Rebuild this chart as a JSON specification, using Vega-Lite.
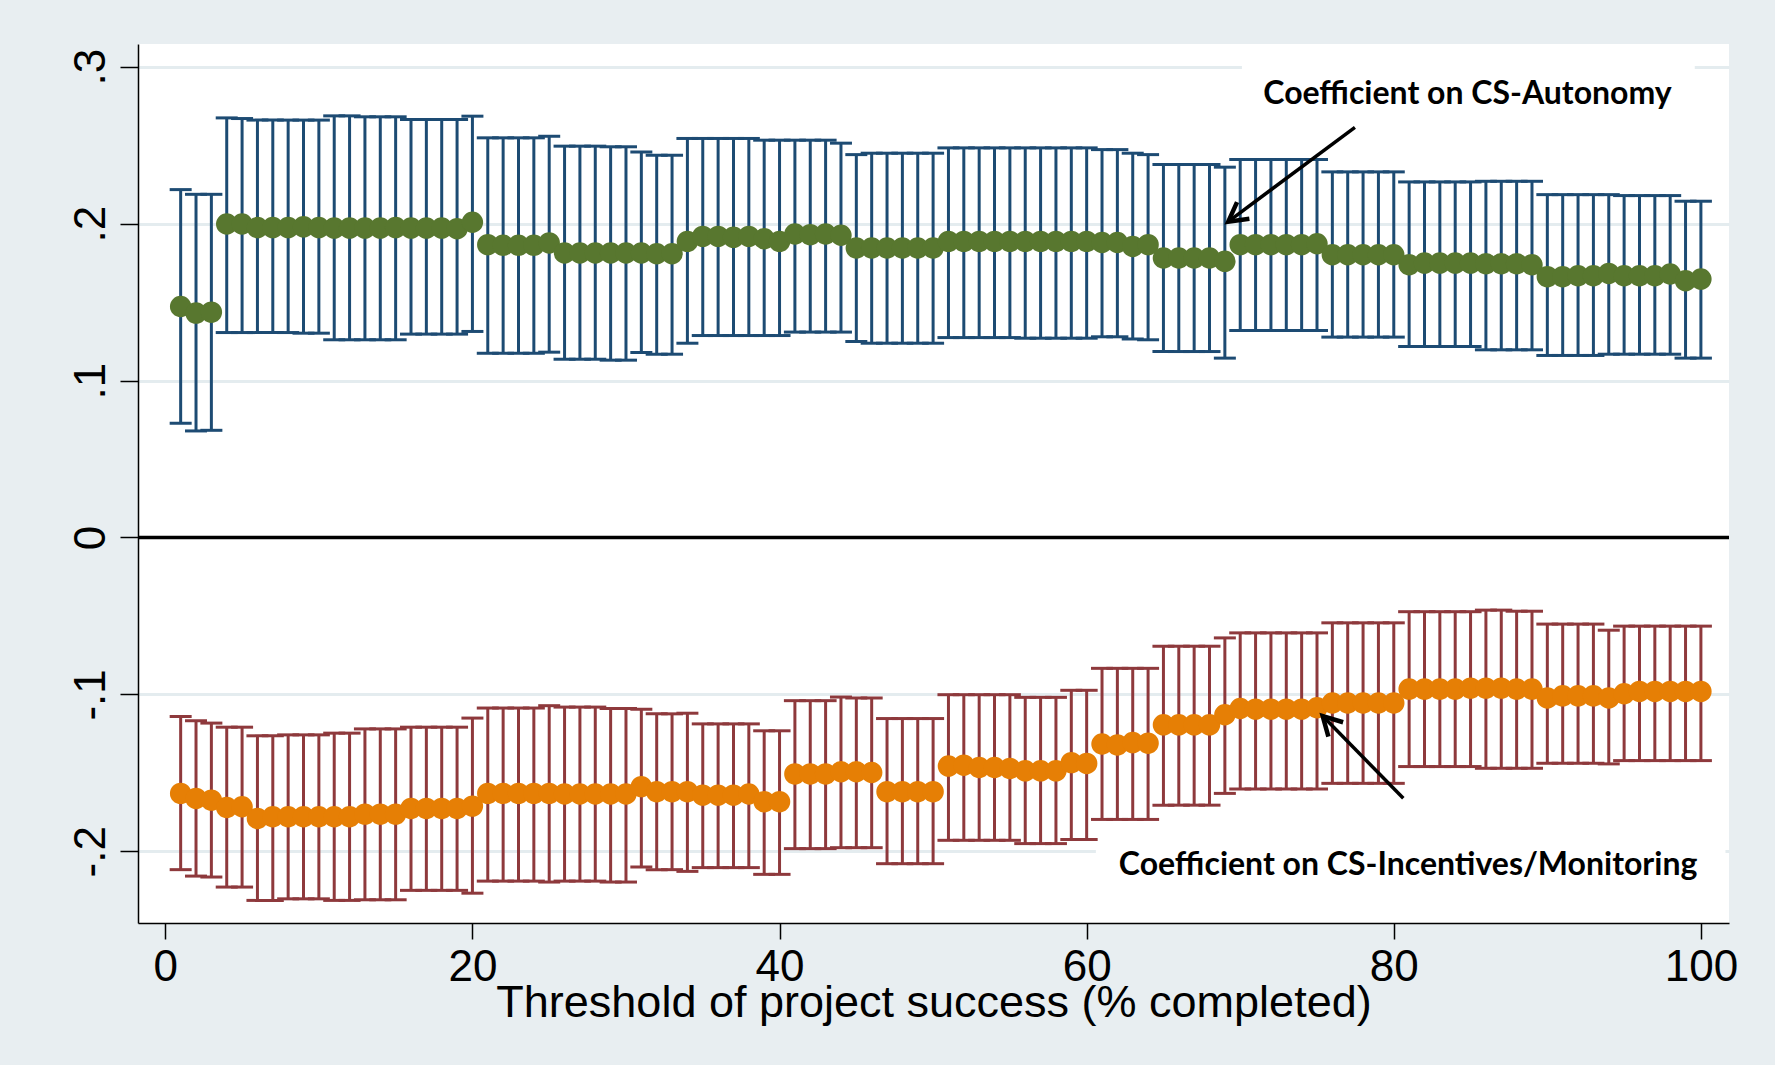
{
  "$schema": "https://vega.github.io/schema/vega-lite/v6.json",
  "autosize": {"type": "none"},
  "padding": {"left": 138, "top": 44, "right": 46, "bottom": 142},
  "width": 1591,
  "height": 879,
  "background": "#e8eef1",
  "view": {"fill": "white", "stroke": null},
  "datasets": {
    "aut": [
      {"t":1,"c":0.1472,"lo":0.0728,"hi":0.2217},
      {"t":2,"c":0.1430,"lo":0.0679,"hi":0.2187},
      {"t":3,"c":0.1436,"lo":0.0683,"hi":0.2187},
      {"t":4,"c":0.1998,"lo":0.1306,"hi":0.2674},
      {"t":5,"c":0.1998,"lo":0.1306,"hi":0.2670},
      {"t":6,"c":0.1975,"lo":0.1306,"hi":0.2660},
      {"t":7,"c":0.1975,"lo":0.1306,"hi":0.2660},
      {"t":8,"c":0.1975,"lo":0.1306,"hi":0.2660},
      {"t":9,"c":0.1980,"lo":0.1302,"hi":0.2660},
      {"t":10,"c":0.1975,"lo":0.1302,"hi":0.2660},
      {"t":11,"c":0.1972,"lo":0.1260,"hi":0.2687},
      {"t":12,"c":0.1972,"lo":0.1260,"hi":0.2687},
      {"t":13,"c":0.1972,"lo":0.1260,"hi":0.2681},
      {"t":14,"c":0.1972,"lo":0.1260,"hi":0.2681},
      {"t":15,"c":0.1975,"lo":0.1260,"hi":0.2681},
      {"t":16,"c":0.1972,"lo":0.1296,"hi":0.2664},
      {"t":17,"c":0.1972,"lo":0.1296,"hi":0.2664},
      {"t":18,"c":0.1972,"lo":0.1296,"hi":0.2664},
      {"t":19,"c":0.1968,"lo":0.1296,"hi":0.2664},
      {"t":20,"c":0.2009,"lo":0.1313,"hi":0.2685},
      {"t":21,"c":0.1866,"lo":0.1174,"hi":0.2547},
      {"t":22,"c":0.1862,"lo":0.1174,"hi":0.2547},
      {"t":23,"c":0.1862,"lo":0.1174,"hi":0.2547},
      {"t":24,"c":0.1862,"lo":0.1174,"hi":0.2547},
      {"t":25,"c":0.1877,"lo":0.1181,"hi":0.2557},
      {"t":26,"c":0.1813,"lo":0.1136,"hi":0.2494},
      {"t":27,"c":0.1813,"lo":0.1136,"hi":0.2494},
      {"t":28,"c":0.1813,"lo":0.1136,"hi":0.2494},
      {"t":29,"c":0.1813,"lo":0.1130,"hi":0.2490},
      {"t":30,"c":0.1813,"lo":0.1130,"hi":0.2490},
      {"t":31,"c":0.1813,"lo":0.1179,"hi":0.2457},
      {"t":32,"c":0.1808,"lo":0.1168,"hi":0.2436},
      {"t":33,"c":0.1808,"lo":0.1168,"hi":0.2436},
      {"t":34,"c":0.1887,"lo":0.1238,"hi":0.2543},
      {"t":35,"c":0.1919,"lo":0.1287,"hi":0.2543},
      {"t":36,"c":0.1919,"lo":0.1287,"hi":0.2543},
      {"t":37,"c":0.1913,"lo":0.1287,"hi":0.2543},
      {"t":38,"c":0.1919,"lo":0.1287,"hi":0.2543},
      {"t":39,"c":0.1904,"lo":0.1287,"hi":0.2532},
      {"t":40,"c":0.1887,"lo":0.1287,"hi":0.2532},
      {"t":41,"c":0.1934,"lo":0.1309,"hi":0.2532},
      {"t":42,"c":0.1930,"lo":0.1309,"hi":0.2532},
      {"t":43,"c":0.1934,"lo":0.1309,"hi":0.2532},
      {"t":44,"c":0.1926,"lo":0.1309,"hi":0.2513},
      {"t":45,"c":0.1845,"lo":0.1249,"hi":0.2440},
      {"t":46,"c":0.1845,"lo":0.1238,"hi":0.2449},
      {"t":47,"c":0.1845,"lo":0.1238,"hi":0.2449},
      {"t":48,"c":0.1845,"lo":0.1238,"hi":0.2449},
      {"t":49,"c":0.1845,"lo":0.1238,"hi":0.2449},
      {"t":50,"c":0.1845,"lo":0.1238,"hi":0.2449},
      {"t":51,"c":0.1887,"lo":0.1274,"hi":0.2483},
      {"t":52,"c":0.1887,"lo":0.1274,"hi":0.2483},
      {"t":53,"c":0.1887,"lo":0.1274,"hi":0.2483},
      {"t":54,"c":0.1887,"lo":0.1274,"hi":0.2483},
      {"t":55,"c":0.1887,"lo":0.1274,"hi":0.2483},
      {"t":56,"c":0.1887,"lo":0.1270,"hi":0.2483},
      {"t":57,"c":0.1887,"lo":0.1270,"hi":0.2483},
      {"t":58,"c":0.1887,"lo":0.1270,"hi":0.2483},
      {"t":59,"c":0.1887,"lo":0.1270,"hi":0.2483},
      {"t":60,"c":0.1887,"lo":0.1270,"hi":0.2483},
      {"t":61,"c":0.1880,"lo":0.1279,"hi":0.2472},
      {"t":62,"c":0.1880,"lo":0.1279,"hi":0.2472},
      {"t":63,"c":0.1855,"lo":0.1265,"hi":0.2449},
      {"t":64,"c":0.1866,"lo":0.1260,"hi":0.2440},
      {"t":65,"c":0.1781,"lo":0.1185,"hi":0.2377},
      {"t":66,"c":0.1781,"lo":0.1185,"hi":0.2377},
      {"t":67,"c":0.1781,"lo":0.1185,"hi":0.2377},
      {"t":68,"c":0.1781,"lo":0.1185,"hi":0.2377},
      {"t":69,"c":0.1760,"lo":0.1143,"hi":0.2360},
      {"t":70,"c":0.1866,"lo":0.1319,"hi":0.2409},
      {"t":71,"c":0.1866,"lo":0.1319,"hi":0.2409},
      {"t":72,"c":0.1866,"lo":0.1319,"hi":0.2409},
      {"t":73,"c":0.1866,"lo":0.1319,"hi":0.2409},
      {"t":74,"c":0.1866,"lo":0.1319,"hi":0.2409},
      {"t":75,"c":0.1872,"lo":0.1319,"hi":0.2409},
      {"t":76,"c":0.1802,"lo":0.1277,"hi":0.2330},
      {"t":77,"c":0.1802,"lo":0.1277,"hi":0.2330},
      {"t":78,"c":0.1802,"lo":0.1277,"hi":0.2330},
      {"t":79,"c":0.1802,"lo":0.1277,"hi":0.2330},
      {"t":80,"c":0.1802,"lo":0.1277,"hi":0.2330},
      {"t":81,"c":0.1738,"lo":0.1217,"hi":0.2266},
      {"t":82,"c":0.1749,"lo":0.1217,"hi":0.2266},
      {"t":83,"c":0.1749,"lo":0.1217,"hi":0.2266},
      {"t":84,"c":0.1749,"lo":0.1217,"hi":0.2266},
      {"t":85,"c":0.1749,"lo":0.1217,"hi":0.2266},
      {"t":86,"c":0.1745,"lo":0.1196,"hi":0.2270},
      {"t":87,"c":0.1745,"lo":0.1196,"hi":0.2270},
      {"t":88,"c":0.1745,"lo":0.1196,"hi":0.2270},
      {"t":89,"c":0.1738,"lo":0.1196,"hi":0.2270},
      {"t":90,"c":0.1662,"lo":0.1160,"hi":0.2185},
      {"t":91,"c":0.1662,"lo":0.1160,"hi":0.2185},
      {"t":92,"c":0.1668,"lo":0.1160,"hi":0.2185},
      {"t":93,"c":0.1668,"lo":0.1160,"hi":0.2185},
      {"t":94,"c":0.1683,"lo":0.1168,"hi":0.2185},
      {"t":95,"c":0.1668,"lo":0.1168,"hi":0.2179},
      {"t":96,"c":0.1668,"lo":0.1168,"hi":0.2179},
      {"t":97,"c":0.1668,"lo":0.1168,"hi":0.2179},
      {"t":98,"c":0.1679,"lo":0.1168,"hi":0.2179},
      {"t":99,"c":0.1636,"lo":0.1143,"hi":0.2143},
      {"t":100,"c":0.1647,"lo":0.1143,"hi":0.2143}
    ],
    "inc": [
      {"t":1,"c":-0.1631,"lo":-0.2117,"hi":-0.1141},
      {"t":2,"c":-0.1663,"lo":-0.2158,"hi":-0.1168},
      {"t":3,"c":-0.1674,"lo":-0.2164,"hi":-0.1183},
      {"t":4,"c":-0.1721,"lo":-0.2228,"hi":-0.1209},
      {"t":5,"c":-0.1716,"lo":-0.2228,"hi":-0.1209},
      {"t":6,"c":-0.1791,"lo":-0.2313,"hi":-0.1264},
      {"t":7,"c":-0.1780,"lo":-0.2313,"hi":-0.1264},
      {"t":8,"c":-0.1780,"lo":-0.2303,"hi":-0.1258},
      {"t":9,"c":-0.1780,"lo":-0.2303,"hi":-0.1258},
      {"t":10,"c":-0.1780,"lo":-0.2303,"hi":-0.1258},
      {"t":11,"c":-0.1780,"lo":-0.2313,"hi":-0.1247},
      {"t":12,"c":-0.1780,"lo":-0.2313,"hi":-0.1247},
      {"t":13,"c":-0.1763,"lo":-0.2309,"hi":-0.1220},
      {"t":14,"c":-0.1763,"lo":-0.2309,"hi":-0.1220},
      {"t":15,"c":-0.1763,"lo":-0.2309,"hi":-0.1220},
      {"t":16,"c":-0.1727,"lo":-0.2249,"hi":-0.1209},
      {"t":17,"c":-0.1727,"lo":-0.2249,"hi":-0.1209},
      {"t":18,"c":-0.1727,"lo":-0.2249,"hi":-0.1209},
      {"t":19,"c":-0.1727,"lo":-0.2249,"hi":-0.1209},
      {"t":20,"c":-0.1712,"lo":-0.2267,"hi":-0.1151},
      {"t":21,"c":-0.1631,"lo":-0.2190,"hi":-0.1087},
      {"t":22,"c":-0.1631,"lo":-0.2190,"hi":-0.1087},
      {"t":23,"c":-0.1631,"lo":-0.2190,"hi":-0.1087},
      {"t":24,"c":-0.1631,"lo":-0.2190,"hi":-0.1087},
      {"t":25,"c":-0.1631,"lo":-0.2196,"hi":-0.1072},
      {"t":26,"c":-0.1635,"lo":-0.2190,"hi":-0.1081},
      {"t":27,"c":-0.1635,"lo":-0.2190,"hi":-0.1081},
      {"t":28,"c":-0.1635,"lo":-0.2190,"hi":-0.1081},
      {"t":29,"c":-0.1635,"lo":-0.2196,"hi":-0.1090},
      {"t":30,"c":-0.1635,"lo":-0.2196,"hi":-0.1090},
      {"t":31,"c":-0.1588,"lo":-0.2100,"hi":-0.1094},
      {"t":32,"c":-0.1620,"lo":-0.2117,"hi":-0.1124},
      {"t":33,"c":-0.1620,"lo":-0.2117,"hi":-0.1124},
      {"t":34,"c":-0.1620,"lo":-0.2128,"hi":-0.1120},
      {"t":35,"c":-0.1642,"lo":-0.2104,"hi":-0.1188},
      {"t":36,"c":-0.1642,"lo":-0.2104,"hi":-0.1188},
      {"t":37,"c":-0.1642,"lo":-0.2104,"hi":-0.1188},
      {"t":38,"c":-0.1635,"lo":-0.2104,"hi":-0.1188},
      {"t":39,"c":-0.1684,"lo":-0.2147,"hi":-0.1232},
      {"t":40,"c":-0.1684,"lo":-0.2147,"hi":-0.1232},
      {"t":41,"c":-0.1507,"lo":-0.1983,"hi":-0.1040},
      {"t":42,"c":-0.1507,"lo":-0.1983,"hi":-0.1040},
      {"t":43,"c":-0.1507,"lo":-0.1983,"hi":-0.1040},
      {"t":44,"c":-0.1493,"lo":-0.1977,"hi":-0.1017},
      {"t":45,"c":-0.1493,"lo":-0.1977,"hi":-0.1023},
      {"t":46,"c":-0.1498,"lo":-0.1977,"hi":-0.1023},
      {"t":47,"c":-0.1620,"lo":-0.2079,"hi":-0.1154},
      {"t":48,"c":-0.1620,"lo":-0.2079,"hi":-0.1154},
      {"t":49,"c":-0.1620,"lo":-0.2079,"hi":-0.1154},
      {"t":50,"c":-0.1620,"lo":-0.2079,"hi":-0.1154},
      {"t":51,"c":-0.1457,"lo":-0.1930,"hi":-0.1002},
      {"t":52,"c":-0.1451,"lo":-0.1930,"hi":-0.1002},
      {"t":53,"c":-0.1466,"lo":-0.1930,"hi":-0.1002},
      {"t":54,"c":-0.1466,"lo":-0.1930,"hi":-0.1002},
      {"t":55,"c":-0.1472,"lo":-0.1930,"hi":-0.1002},
      {"t":56,"c":-0.1487,"lo":-0.1951,"hi":-0.1019},
      {"t":57,"c":-0.1487,"lo":-0.1951,"hi":-0.1019},
      {"t":58,"c":-0.1487,"lo":-0.1951,"hi":-0.1019},
      {"t":59,"c":-0.1435,"lo":-0.1925,"hi":-0.0974},
      {"t":60,"c":-0.1440,"lo":-0.1925,"hi":-0.0974},
      {"t":61,"c":-0.1316,"lo":-0.1797,"hi":-0.0834},
      {"t":62,"c":-0.1322,"lo":-0.1797,"hi":-0.0834},
      {"t":63,"c":-0.1307,"lo":-0.1797,"hi":-0.0834},
      {"t":64,"c":-0.1311,"lo":-0.1797,"hi":-0.0834},
      {"t":65,"c":-0.1194,"lo":-0.1706,"hi":-0.0693},
      {"t":66,"c":-0.1194,"lo":-0.1706,"hi":-0.0693},
      {"t":67,"c":-0.1194,"lo":-0.1706,"hi":-0.0693},
      {"t":68,"c":-0.1194,"lo":-0.1706,"hi":-0.0693},
      {"t":69,"c":-0.1130,"lo":-0.1631,"hi":-0.0640},
      {"t":70,"c":-0.1090,"lo":-0.1603,"hi":-0.0608},
      {"t":71,"c":-0.1094,"lo":-0.1603,"hi":-0.0608},
      {"t":72,"c":-0.1094,"lo":-0.1603,"hi":-0.0608},
      {"t":73,"c":-0.1094,"lo":-0.1603,"hi":-0.0608},
      {"t":74,"c":-0.1094,"lo":-0.1603,"hi":-0.0608},
      {"t":75,"c":-0.1085,"lo":-0.1603,"hi":-0.0608},
      {"t":76,"c":-0.1055,"lo":-0.1567,"hi":-0.0544},
      {"t":77,"c":-0.1055,"lo":-0.1567,"hi":-0.0544},
      {"t":78,"c":-0.1055,"lo":-0.1567,"hi":-0.0544},
      {"t":79,"c":-0.1055,"lo":-0.1567,"hi":-0.0544},
      {"t":80,"c":-0.1055,"lo":-0.1567,"hi":-0.0544},
      {"t":81,"c":-0.0966,"lo":-0.1460,"hi":-0.0473},
      {"t":82,"c":-0.0966,"lo":-0.1460,"hi":-0.0473},
      {"t":83,"c":-0.0966,"lo":-0.1460,"hi":-0.0473},
      {"t":84,"c":-0.0966,"lo":-0.1460,"hi":-0.0473},
      {"t":85,"c":-0.0960,"lo":-0.1460,"hi":-0.0473},
      {"t":86,"c":-0.0960,"lo":-0.1471,"hi":-0.0463},
      {"t":87,"c":-0.0960,"lo":-0.1471,"hi":-0.0463},
      {"t":88,"c":-0.0966,"lo":-0.1471,"hi":-0.0470},
      {"t":89,"c":-0.0966,"lo":-0.1471,"hi":-0.0470},
      {"t":90,"c":-0.1023,"lo":-0.1439,"hi":-0.0552},
      {"t":91,"c":-0.1009,"lo":-0.1439,"hi":-0.0552},
      {"t":92,"c":-0.1009,"lo":-0.1439,"hi":-0.0552},
      {"t":93,"c":-0.1009,"lo":-0.1439,"hi":-0.0552},
      {"t":94,"c":-0.1023,"lo":-0.1443,"hi":-0.0591},
      {"t":95,"c":-0.0996,"lo":-0.1422,"hi":-0.0565},
      {"t":96,"c":-0.0981,"lo":-0.1422,"hi":-0.0565},
      {"t":97,"c":-0.0981,"lo":-0.1422,"hi":-0.0565},
      {"t":98,"c":-0.0981,"lo":-0.1422,"hi":-0.0565},
      {"t":99,"c":-0.0981,"lo":-0.1422,"hi":-0.0565},
      {"t":100,"c":-0.0981,"lo":-0.1422,"hi":-0.0565}
    ],
    "boxes": [
      {"x1":70.11,"x2":99.6,"y1":0.27,"y2":0.31},
      {"x1":60.6,"x2":101.6,"y1":-0.195,"y2":-0.235}
    ],
    "arrows": [
      {"x1":77.47,"y1":0.2614,"x2":69.22,"y2":0.2013,"ang":143.2},
      {"x1":80.62,"y1":-0.1662,"x2":75.37,"y2":-0.1138,"ang":225.7}
    ],
    "labels": [
      {"x":84.8,"y":0.2761,"txt":"Coefficient on CS-Autonomy"},
      {"x":80.93,"y":-0.2151,"txt":"Coefficient on CS-Incentives/Monitoring"}
    ]
  },
  "encoding": {
    "x": {
      "field": "t",
      "type": "quantitative",
      "scale": {"domain": [-1.778, 101.83], "nice": false, "zero": false},
      "axis": {
        "values": [0, 20, 40, 60, 80, 100],
        "title": "Threshold of project success (% completed)",
        "grid": false,
        "labelFlush": false,
        "labelFont": "Liberation Sans",
        "labelFontSize": 44,
        "labelColor": "black",
        "labelBaseline": "alphabetic",
        "labelPadding": 41,
        "tickSize": 16,
        "tickColor": "black",
        "tickWidth": 1.5,
        "domainColor": "black",
        "domainWidth": 1.5,
        "titleFont": "Liberation Sans",
        "titleFontSize": 45,
        "titleFontWeight": "normal",
        "titleColor": "black",
        "titleBaseline": "alphabetic",
        "titleY": 93
      }
    }
  },
  "layer": [
    {
      "data": {"name": "boxes"},
      "mark": {"type": "rect", "fill": "white"},
      "encoding": {
        "x": {"field": "x1", "type": "quantitative"},
        "x2": {"field": "x2"},
        "y": {
          "field": "y1",
          "type": "quantitative",
          "scale": {"domain": [-0.2457, 0.3145], "nice": false, "zero": false},
          "axis": {
            "values": [-0.2, -0.1, 0, 0.1, 0.2, 0.3],
            "title": null,
            "grid": true,
            "gridColor": "#e4ecef",
            "gridWidth": 3,
            "labelExpr": "datum.value == 0 ? '0' : (datum.value < 0 ? '-' : '') + '.' + round(abs(datum.value) * 10)",
            "labelFont": "Liberation Sans",
            "labelFontSize": 44,
            "labelColor": "black",
            "labelAngle": -90,
            "labelAlign": "center",
            "labelBaseline": "alphabetic",
            "labelPadding": 16,
            "tickSize": 18,
            "tickColor": "black",
            "tickWidth": 1.5,
            "domainColor": "black",
            "domainWidth": 1.5
          }
        },
        "y2": {"field": "y2"}
      }
    },
    {
      "data": {"values": [{}]},
      "mark": {"type": "rule", "color": "black", "strokeWidth": 3.5},
      "encoding": {"y": {"datum": 0, "type": "quantitative"}, "x": null}
    },
    {
      "data": {"name": "aut"},
      "mark": {"type": "rule", "color": "#1d4b73", "strokeWidth": 3},
      "encoding": {"y": {"field": "lo", "type": "quantitative"}, "y2": {"field": "hi"}}
    },
    {
      "data": {"name": "aut"},
      "mark": {"type": "tick", "orient": "horizontal", "color": "#1d4b73", "size": 22, "thickness": 3, "opacity": 1},
      "encoding": {"y": {"field": "lo", "type": "quantitative"}}
    },
    {
      "data": {"name": "aut"},
      "mark": {"type": "tick", "orient": "horizontal", "color": "#1d4b73", "size": 22, "thickness": 3, "opacity": 1},
      "encoding": {"y": {"field": "hi", "type": "quantitative"}}
    },
    {
      "data": {"name": "aut"},
      "mark": {"type": "point", "shape": "circle", "filled": true, "color": "#58772f", "size": 460, "opacity": 1},
      "encoding": {"y": {"field": "c", "type": "quantitative"}}
    },
    {
      "data": {"name": "inc"},
      "mark": {"type": "rule", "color": "#8e393c", "strokeWidth": 3},
      "encoding": {"y": {"field": "lo", "type": "quantitative"}, "y2": {"field": "hi"}}
    },
    {
      "data": {"name": "inc"},
      "mark": {"type": "tick", "orient": "horizontal", "color": "#8e393c", "size": 22, "thickness": 3, "opacity": 1},
      "encoding": {"y": {"field": "lo", "type": "quantitative"}}
    },
    {
      "data": {"name": "inc"},
      "mark": {"type": "tick", "orient": "horizontal", "color": "#8e393c", "size": 22, "thickness": 3, "opacity": 1},
      "encoding": {"y": {"field": "hi", "type": "quantitative"}}
    },
    {
      "data": {"name": "inc"},
      "mark": {"type": "point", "shape": "circle", "filled": true, "color": "#e67f05", "size": 460, "opacity": 1},
      "encoding": {"y": {"field": "c", "type": "quantitative"}}
    },
    {
      "data": {"name": "arrows"},
      "mark": {"type": "rule", "color": "black", "strokeWidth": 3.5},
      "encoding": {
        "x": {"field": "x1", "type": "quantitative"},
        "y": {"field": "y1", "type": "quantitative"},
        "x2": {"field": "x2"},
        "y2": {"field": "y2"}
      }
    },
    {
      "data": {"name": "arrows"},
      "mark": {"type": "point", "shape": "M -1 -0.55 L 0 0 L -1 0.55", "filled": false, "stroke": "black", "strokeWidth": 4.5, "size": 1400, "opacity": 1, "strokeJoin": "miter"},
      "encoding": {
        "x": {"field": "x2", "type": "quantitative"},
        "y": {"field": "y2", "type": "quantitative"},
        "angle": {"field": "ang", "type": "quantitative", "scale": null}
      }
    },
    {
      "data": {"name": "labels"},
      "mark": {"type": "text", "font": "Lato", "fontWeight": "bold", "fontSize": 32, "color": "black", "align": "center", "baseline": "alphabetic"},
      "encoding": {
        "x": {"field": "x", "type": "quantitative"},
        "y": {"field": "y", "type": "quantitative"},
        "text": {"field": "txt"}
      }
    }
  ]
}
